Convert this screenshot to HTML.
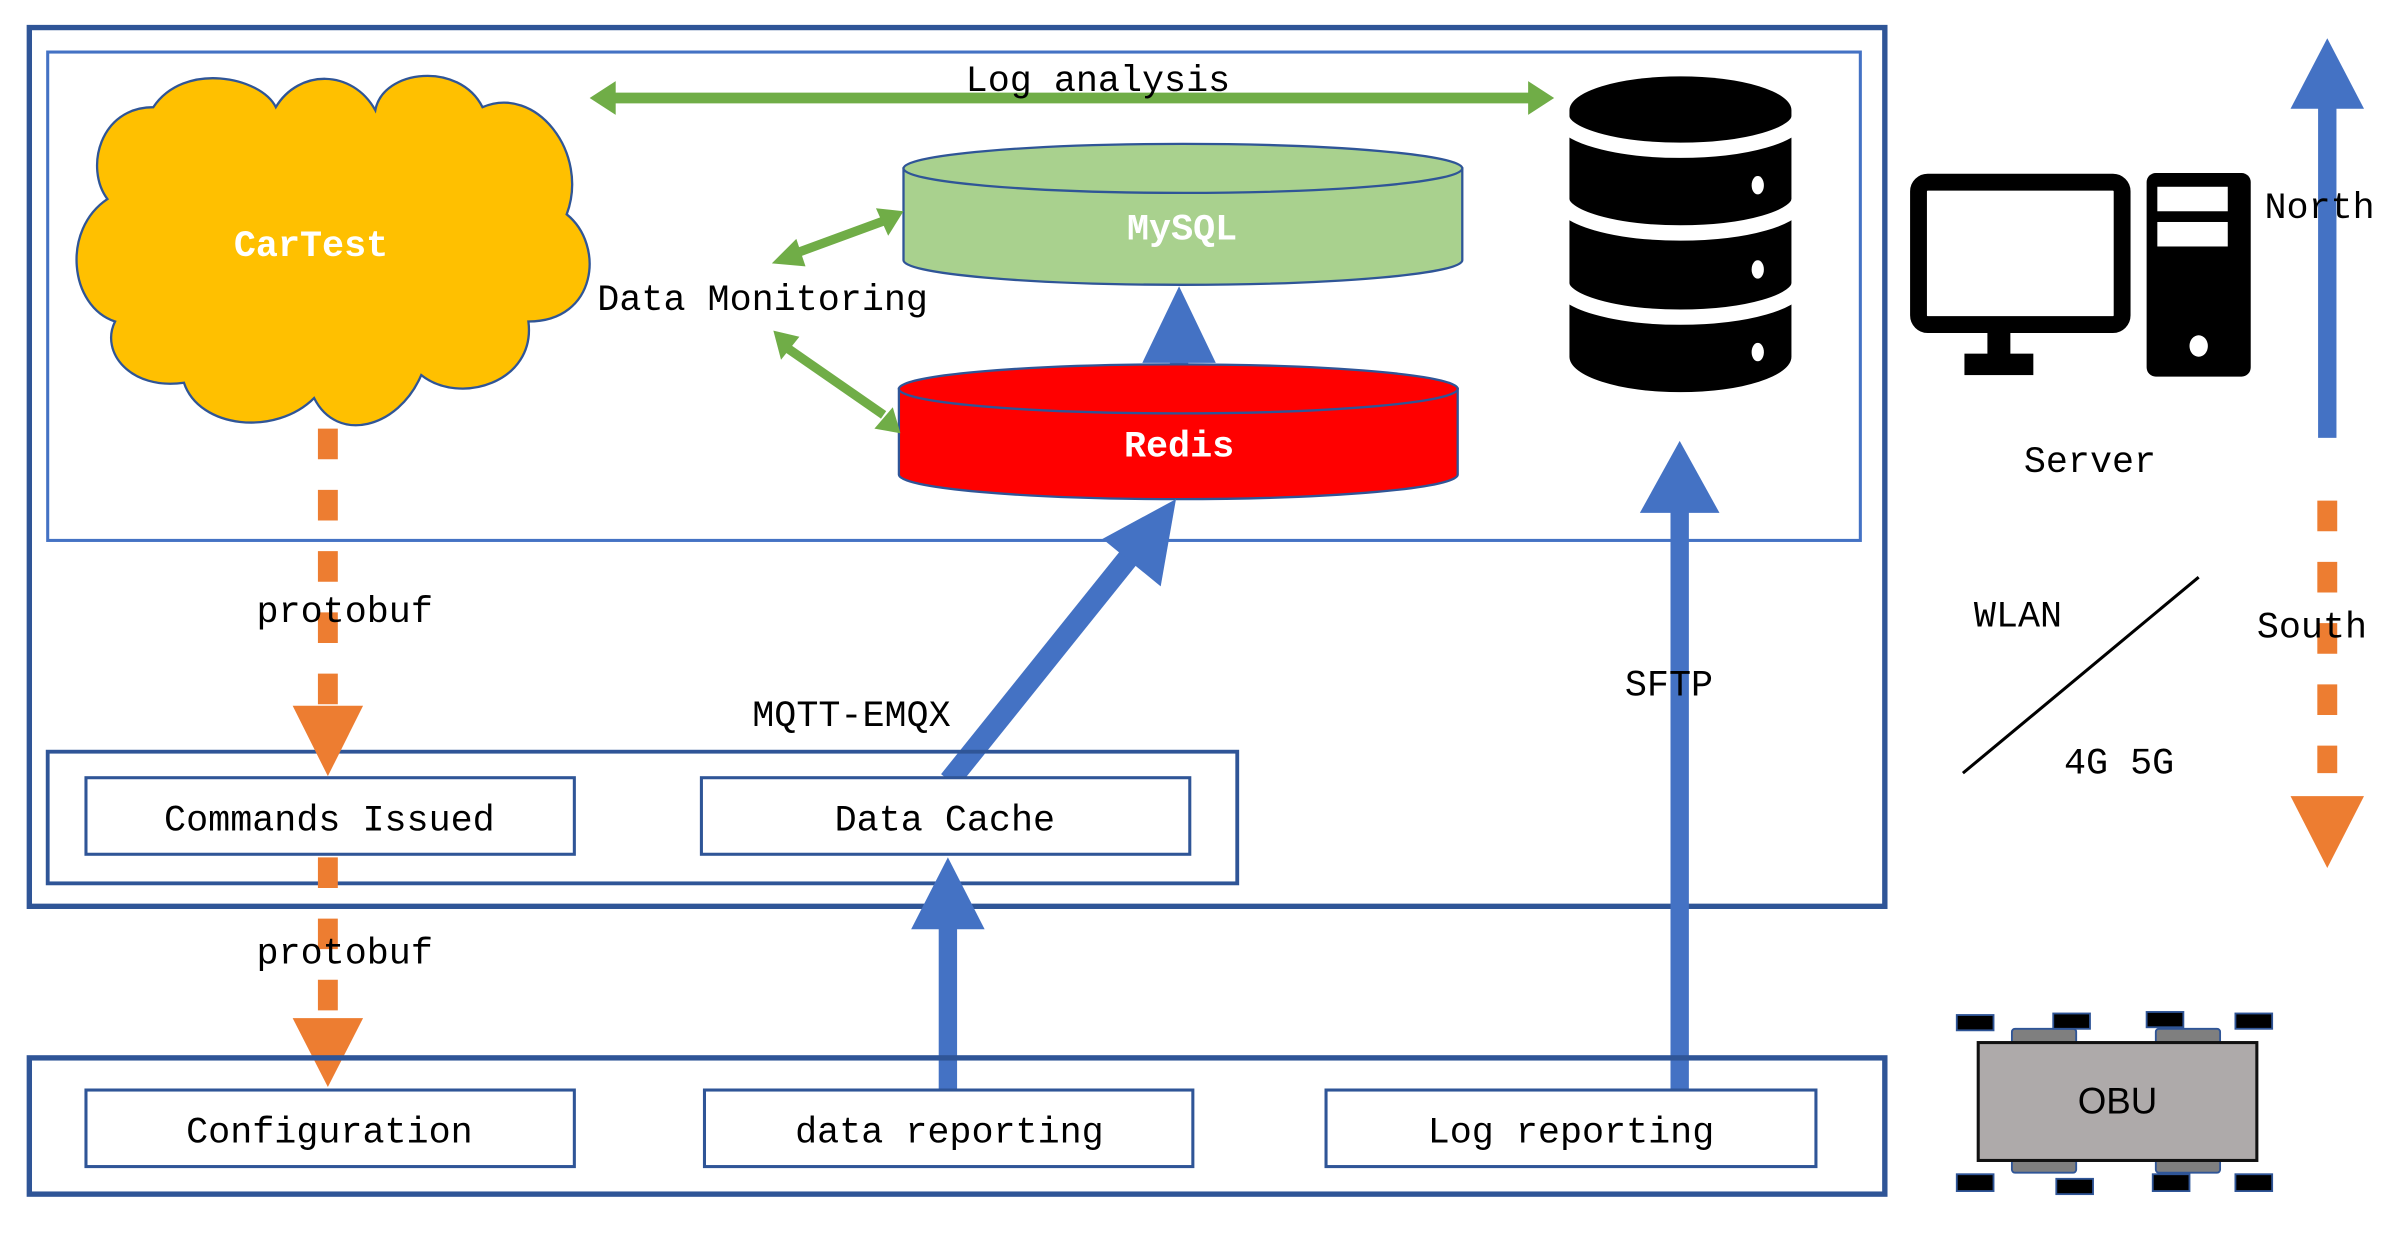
<!DOCTYPE html>
<html><head><meta charset="utf-8"><style>
html,body{margin:0;padding:0;background:#fff;}
svg{display:block}
text{font-family:"Liberation Mono","DejaVu Sans Mono",monospace;font-size:24px;text-anchor:middle;dominant-baseline:middle;}
</style></head><body>
<svg width="2401" height="1237" viewBox="0 0 1568 808" xmlns="http://www.w3.org/2000/svg">
<rect width="1568" height="808" fill="#fff"/>
<rect x="19" y="18" width="1212" height="574" fill="none" stroke="#2F5597" stroke-width="3.5"/>
<rect x="31" y="34" width="1184" height="319" fill="none" stroke="#4472C4" stroke-width="2"/>
<g fill="#FFC000" stroke="#2F5597" stroke-width="1.5">
<path d="M100,70 C120,40 170,50 180,70 C195,45 230,45 245,72 C250,45 300,40 315,70 C350,55 385,100 370,140 C395,160 390,210 345,210 C350,250 300,265 275,245 C260,280 220,290 205,260 C180,285 130,280 120,250 C85,255 65,230 75,210 C45,200 40,150 70,130 C55,110 65,70 100,70 Z"/>
</g>
<text x="203" y="161" fill="#fff" font-weight="bold">CarTest</text>
<line x1="400" y1="64" x2="1000" y2="64" stroke="#70AD47" stroke-width="7"/>
<polygon points="385,64 402,53 402,75" fill="#70AD47"/>
<polygon points="1015,64 998,53 998,75" fill="#70AD47"/>
<text x="717" y="53">Log analysis</text>
<path d="M590,110 L590,170 A182,16 0 0 0 955,170 L955,110 Z" fill="#A9D18E" stroke="#2F5597" stroke-width="1.5"/>
<ellipse cx="772.5" cy="110" rx="182.5" ry="16" fill="#A9D18E" stroke="#2F5597" stroke-width="1.5"/>
<text x="772" y="150" fill="#fff" font-weight="bold">MySQL</text>
<rect x="764" y="230" width="12" height="20" fill="#4472C4"/>
<polygon points="770,187 794,237 746,237" fill="#4472C4"/>
<path d="M587,254 L587,310 A182,16 0 0 0 952,310 L952,254 Z" fill="#FF0000" stroke="#2F5597" stroke-width="1.5"/>
<ellipse cx="769.5" cy="254" rx="182.5" ry="16" fill="#FF0000" stroke="#2F5597" stroke-width="1.5"/>
<text x="770" y="292" fill="#fff" font-weight="bold">Redis</text>
<text x="498" y="196">Data Monitoring</text>
<g stroke="#70AD47" stroke-width="6">
<line x1="518" y1="166" x2="578" y2="144"/>
<line x1="515" y1="228" x2="577" y2="271"/>
</g>
<polygon points="504,172 520,156 526,174" fill="#70AD47"/>
<polygon points="590,138 572,136 580,154" fill="#70AD47"/>
<polygon points="505,216 522,220 510,235" fill="#70AD47"/>
<polygon points="588,283 583,266 571,280" fill="#70AD47"/>
<!-- DB icon -->
<path d="M1025,72 A72,22 0 0 1 1170,72 L1170,233 A72,23 0 0 1 1025,233 Z" fill="#000"/>
<g fill="none" stroke="#fff" stroke-width="10">
<path d="M1020,76 A77,22 0 0 0 1175,76"/>
<path d="M1020,130 A77,22 0 0 0 1175,130"/>
<path d="M1020,185 A77,22 0 0 0 1175,185"/>
</g>
<ellipse cx="1148" cy="121" rx="4" ry="6" fill="#fff"/>
<ellipse cx="1148" cy="176" rx="4" ry="6" fill="#fff"/>
<ellipse cx="1148" cy="230" rx="4" ry="6" fill="#fff"/>
<rect x="1091" y="333" width="12" height="380" fill="#4472C4"/>
<polygon points="1097,288 1123,335 1071,335" fill="#4472C4"/>
<text x="1090" y="448">SFTP</text>
<line x1="620" y1="510" x2="742" y2="358" stroke="#4472C4" stroke-width="14"/>
<polygon points="768,326 758,383 720,352" fill="#4472C4"/>
<text x="556" y="468">MQTT-EMQX</text>
<rect x="31" y="491" width="777" height="86" fill="none" stroke="#2F5597" stroke-width="2.5"/>
<rect x="56" y="508" width="319" height="50" fill="#fff" stroke="#2F5597" stroke-width="2"/>
<rect x="458" y="508" width="319" height="50" fill="#fff" stroke="#2F5597" stroke-width="2"/>
<text x="215" y="536">Commands Issued</text>
<text x="617" y="536">Data Cache</text>
<line x1="214" y1="280" x2="214" y2="462" stroke="#ED7D31" stroke-width="13" stroke-dasharray="20,20"/>
<polygon points="191,461 237,461 214,507" fill="#ED7D31"/>
<text x="225" y="400" fill="#000">protobuf</text>
<line x1="214" y1="560" x2="214" y2="667" stroke="#ED7D31" stroke-width="13" stroke-dasharray="20,20"/>
<polygon points="191,665 237,665 214,710" fill="#ED7D31"/>
<text x="225" y="623">protobuf</text>
<rect x="613" y="605" width="12" height="108" fill="#4472C4"/>
<polygon points="619,560 643,607 595,607" fill="#4472C4"/>
<rect x="19" y="691" width="1212" height="89" fill="none" stroke="#2F5597" stroke-width="3.5"/>
<rect x="56" y="712" width="319" height="50" fill="#fff" stroke="#2F5597" stroke-width="2"/>
<rect x="460" y="712" width="319" height="50" fill="#fff" stroke="#2F5597" stroke-width="2"/>
<rect x="866" y="712" width="320" height="50" fill="#fff" stroke="#2F5597" stroke-width="2"/>
<text x="215" y="740">Configuration</text>
<text x="620" y="740">data reporting</text>
<text x="1026" y="740">Log reporting</text>
<rect x="1253" y="119" width="133" height="93" rx="6" fill="none" stroke="#000" stroke-width="11"/>
<rect x="1298" y="215" width="15" height="20" fill="#000"/>
<rect x="1283" y="231" width="45" height="14" fill="#000"/>
<rect x="1402" y="113" width="68" height="133" rx="6" fill="#000"/>
<rect x="1409" y="122" width="46" height="16" fill="#fff"/>
<rect x="1409" y="145" width="46" height="16" fill="#fff"/>
<ellipse cx="1436" cy="226" rx="6" ry="7" fill="#fff"/>
<rect x="1514" y="68" width="12" height="218" fill="#4472C4"/>
<polygon points="1520,25 1544,71 1496,71" fill="#4472C4"/>
<text x="1515" y="136">North</text>
<text x="1365" y="302">Server</text>
<text x="1318" y="403">WLAN</text>
<line x1="1282" y1="505" x2="1436" y2="377" stroke="#000" stroke-width="2"/>
<text x="1384" y="499">4G 5G</text>
<line x1="1520" y1="327" x2="1520" y2="505" stroke="#ED7D31" stroke-width="13" stroke-dasharray="20,20"/>
<polygon points="1496,520 1544,520 1520,567" fill="#ED7D31"/>
<text x="1510" y="410">South</text>
<g fill="#7F7F7F" stroke="#2F5597" stroke-width="1.2">
<rect x="1314" y="672" width="42" height="12" rx="2"/>
<rect x="1408" y="672" width="42" height="12" rx="2"/>
<rect x="1314" y="753" width="42" height="13" rx="2"/>
<rect x="1408" y="753" width="42" height="13" rx="2"/>
</g>
<rect x="1292" y="681" width="182" height="77" fill="#AEAAAA" stroke="#111" stroke-width="2"/>
<text x="1383" y="721" style="font-family:'Liberation Sans',sans-serif">OBU</text>
<g fill="#000" stroke="#2F5597" stroke-width="1.2">
<rect x="1278" y="663" width="24" height="10"/>
<rect x="1341" y="662" width="24" height="10"/>
<rect x="1402" y="661" width="24" height="10"/>
<rect x="1460" y="662" width="24" height="10"/>
<rect x="1278" y="767" width="24" height="11"/>
<rect x="1343" y="770" width="24" height="10"/>
<rect x="1406" y="767" width="24" height="11"/>
<rect x="1460" y="767" width="24" height="11"/>
</g>
</svg>
</body></html>
